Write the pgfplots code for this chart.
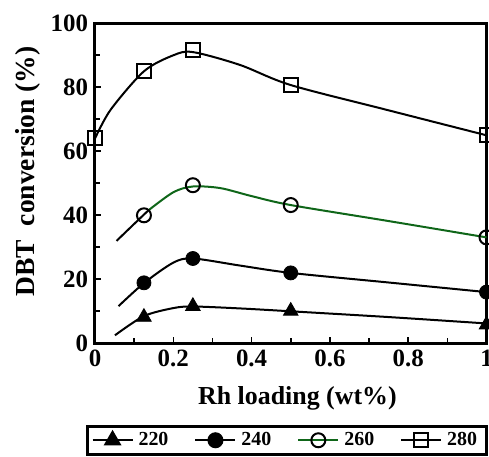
\documentclass[border=0pt]{standalone}
\usepackage{pgfplots}
\pgfplotsset{compat=1.18}
\usepackage{fontspec}
\setmainfont{Liberation Serif}
\usetikzlibrary{calc}
\definecolor{dkgreen}{rgb}{0.06,0.40,0.10}
\begin{document}
\begin{tikzpicture}
\begin{axis}[
  name=ax,
  scale only axis,
  width=195.75bp, height=160bp,
  xmin=0, xmax=1, ymin=0, ymax=100,
  xtick={0,0.2,...,1}, ytick={0,20,...,100},
  xticklabels={0,0.2,0.4,0.6,0.8,1},
  minor x tick num=1, minor y tick num=1,
  tick align=inside, xtick pos=bottom, ytick pos=left,
  major tick length=3bp, minor tick length=2.5bp,
  every tick/.style={black, line width=0.8bp},
  axis line style={line width=1.5bp},
  ticklabel style={font=\fontsize{12.5}{14}\selectfont\bfseries},
  /pgf/number format/assume math mode=true,
  xlabel={Rh loading (wt\%)},
  ylabel={DBT\ \ conversion (\%)},
  every axis x label/.style={at={(rel axis cs:0.517,-0.172)}, anchor=center, font=\fontsize{13}{15}\selectfont\bfseries},
  every axis y label/.style={at={(rel axis cs:-0.171,0.537)}, rotate=90, anchor=center, font=\fontsize{13.8}{15}\selectfont\bfseries},
  clip=false,
  legend columns=4,
  legend style={at={(rel axis cs:0.490,-0.303)}, anchor=center,
    draw=black, line width=1.5bp, inner xsep=2bp, inner ysep=0.5bp,
    font=\fontsize{10}{11}\selectfont\bfseries,
    nodes={inner sep=2.5bp},
    /tikz/every even column/.append style={column sep=10.5bp}},
  legend image code/.code={\draw[mark repeat=2,mark phase=2,#1] plot coordinates {(0bp,0bp)(10bp,0bp)(20bp,0bp)};},
]
% legend entries
\addlegendimage{black, line width=1bp, mark=triangle*, mark size=4.2bp, mark options={solid}}
\addlegendentry{220}
\addlegendimage{black, line width=1bp, mark=*, mark size=3.5bp}
\addlegendentry{240}
\addlegendimage{dkgreen, line width=1bp, mark=o, mark size=3.5bp, mark options={black}}
\addlegendentry{260}
\addlegendimage{black, line width=1bp, mark=square, mark size=3.5bp}
\addlegendentry{280}

% fitted curves
\addplot[black, line width=1bp, smooth, tension=0.5, forget plot] coordinates {
 (0,64) (0.04,73) (0.125,85) (0.2,90) (0.25,91) (0.37,87) (0.5,80.7) (0.75,72.8) (1,65)};
\addplot[black, line width=1bp, smooth, tension=0.5, forget plot] coordinates {
 (0.055,32) (0.10,37.3) (0.136,41.5)};
\addplot[dkgreen, line width=1bp, smooth, tension=0.5, forget plot] coordinates {
 (0.136,41.5) (0.2,47.2) (0.25,49) (0.32,48.5) (0.4,46) (0.5,43.2) (0.75,38.2) (1,33.1)};
\addplot[black, line width=1bp, smooth, tension=0.5, forget plot] coordinates {
 (0.06,11.6) (0.125,18.8) (0.2,25.2) (0.25,26.5) (0.37,24.3) (0.5,22) (0.75,19) (1,16)};
\addplot[black, line width=1bp, smooth, tension=0.5, forget plot] coordinates {
 (0.051,2.5) (0.125,8.5) (0.2,11) (0.25,11.5) (0.37,10.9) (0.5,10) (0.75,8.2) (1,6.2)};

% markers
\addplot[only marks, mark=square, mark size=3.5bp, line width=1bp, black, forget plot] coordinates {
 (0,64.1) (0.125,85.2) (0.25,91.6) (0.5,80.7) (1,65.1)};
\addplot[only marks, mark=o, mark size=3.5bp, line width=1bp, black, forget plot] coordinates {
 (0.125,40) (0.25,49.4) (0.5,43.2) (1,33.1)};
\addplot[only marks, mark=*, mark size=3.5bp, black, forget plot] coordinates {
 (0.125,18.9) (0.25,26.5) (0.5,22) (1,16)};
\addplot[only marks, mark=triangle*, mark size=4.2bp, black, forget plot] coordinates {
 (0.125,8.2) (0.25,11.6) (0.5,10.1) (1,5.8)};
\end{axis}
\pgfresetboundingbox
\path[use as bounding box] ($(ax.south west)+(-47.5bp,-56.5bp)$) rectangle ($(ax.north east)+(1.25bp,11.65bp)$);
\end{tikzpicture}
\end{document}
